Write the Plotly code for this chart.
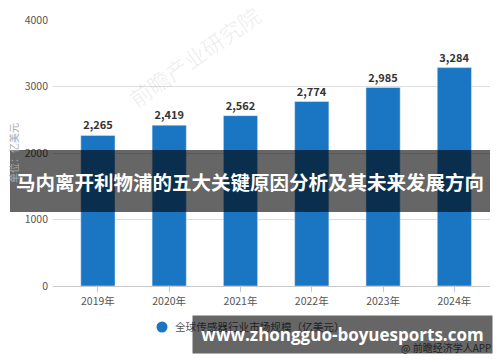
import plotly.graph_objects as go

years = ["2019年", "2020年", "2021年", "2022年", "2023年", "2024年"]
market_size = [2265, 2419, 2562, 2774, 2985, 3284]
series_name = "全球传感器行业市场规模（亿美元）"
y_ticks = [0, 1000, 2000, 3000, 4000]
title_text = "马内离开利物浦的五大关键原因分析及其未来发展方向"
site_text = "www.zhongguo-boyuesports.com"
source_text = "@ 前瞻经济学人APP"
axis_title = "单位：亿美元"
watermark = "前瞻产业研究院"

W, H = 500, 362
L, R, T, B = 53, 10, 20, 76
pw, ph = W - L - R, H - T - B

def px(x):
    return (x - L) / pw

def py(y):
    return (H - B - y) / ph

FONT = "Noto Sans CJK SC"
BLUE = "#1a76c2"

fig = go.Figure()
fig.add_trace(go.Bar(
    x=years, y=market_size, marker_color=BLUE, showlegend=False, name=series_name,
    texttemplate="<b>%{y:,}</b>", textposition="outside", cliponaxis=False,
    textfont=dict(family=FONT, size=11, color="#333"),
))

fig.update_layout(
    width=W, height=H,
    margin=dict(l=L, r=R, t=T, b=B),
    paper_bgcolor="white", plot_bgcolor="white",
    bargap=0.52,
    font=dict(family=FONT, color="#555"),
    showlegend=False,
    xaxis=dict(range=[-0.63, 5.5], showline=True, linecolor="#c8c8c8",
               ticks="outside", tickcolor="#c8c8c8", ticklen=5,
               tickfont=dict(size=10.5, color="#555", family=FONT)),
    yaxis=dict(range=[0, 4000], tickvals=y_ticks, ticktext=[str(v) for v in y_ticks],
               gridcolor="#dedede", zeroline=False, ticks="", ticklabelstandoff=4,
               tickfont=dict(size=10.5, color="#555", family=FONT),
               title=dict(text=axis_title, font=dict(size=10, color="#aaa"), standoff=4)),
)

# faint watermark
fig.add_annotation(x=px(194), y=py(56), xref="paper", yref="paper", text=watermark,
                   showarrow=False, textangle=-35, xanchor="center", yanchor="middle",
                   font=dict(size=22, color="rgba(0,0,0,0.07)", family=FONT))

# title banner
fig.add_shape(type="rect", xref="paper", yref="paper", x0=px(10), x1=px(490),
              y0=py(212), y1=py(150), fillcolor="rgba(0,0,0,0.6)", line_width=0,
              layer="above")
fig.add_annotation(x=px(250), y=py(181), xref="paper", yref="paper", text=f"<b>{title_text}</b>",
                   showarrow=False, xanchor="center", yanchor="middle",
                   font=dict(size=19.5, color="white", family=FONT))

# legend (marker + label)
fig.add_shape(type="circle", xref="paper", yref="paper", x0=px(156.5), x1=px(167.5),
              y0=py(332.5), y1=py(321.5), fillcolor=BLUE, line_width=0, layer="above")
fig.add_annotation(x=px(173), y=py(326), xref="paper", yref="paper", text=series_name,
                   showarrow=False, xanchor="left", yanchor="middle",
                   font=dict(size=10.6, color="#555", family=FONT))

# source note
fig.add_annotation(x=px(493), y=py(347), xref="paper", yref="paper", text=source_text,
                   xanchor="right", yanchor="middle", showarrow=False,
                   font=dict(size=10, color="#555", family=FONT))

# bottom banner with site text (drawn last, on top)
fig.add_annotation(x=px(192), y=py(315), xref="paper", yref="paper", text=f"<b>{site_text}</b>",
                   showarrow=False, xanchor="left", yanchor="top",
                   width=299, height=37, align="center", valign="middle", borderpad=0,
                   bgcolor="rgba(0,0,0,0.6)",
                   font=dict(size=17, color="white", family="Open Sans"))

fig.write_html("out.html")
